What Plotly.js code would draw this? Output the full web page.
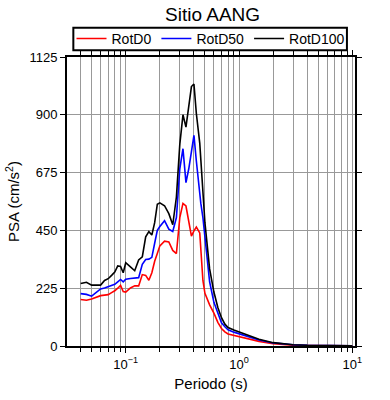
<!DOCTYPE html>
<html>
<head>
<meta charset="utf-8">
<script src="https://cdn.plot.ly/plotly-3.0.1.min.js"></script>
<style>html,body{margin:0;padding:0;background:#fff;}#chart{width:390px;height:400px;}</style>
</head>
<body>
<div id="chart"></div>
<script>
const periods = [0.04,0.045,0.05,0.055,0.06,0.065,0.07,0.075,0.08,0.085,0.09,0.095,0.1,0.11,0.12,0.13,0.14,0.15,0.16,0.17,0.18,0.19,0.2,0.22,0.24,0.26,0.28,0.3,0.32,0.34,0.36,0.38,0.4,0.42,0.45,0.46,0.48,0.5,0.55,0.6,0.65,0.7,0.75,0.8,0.9,1.0,1.2,1.5,2,2.5,3,4,5,7.5,10];
const rotD0 = [181,178,183,190,196,198,200,208,215,225,236,212,210,226,234,234,278,275,256,285,330,360,390,408,405,372,360,500,555,545,480,428,448,463,440,380,255,205,160,128,92,68,55,47,42,38,28,18,9,5,3,2,1,1,0.5];
const rotD50 = [204,201,194,208,222,226,230,235,240,250,259,250,260,263,264,266,318,337,338,345,400,450,465,488,455,446,500,690,768,636,690,765,820,720,590,555,500,430,250,170,125,90,75,63,54,48,36,23,12,7,5,3,2,1,1];
const rotD100 = [243,248,237,237,237,255,262,275,288,312,310,285,324,308,293,335,347,425,445,432,480,552,557,546,515,472,580,785,900,852,925,1010,1020,905,790,720,600,480,300,210,150,110,85,72,62,55,40,26,13,8,5,3,2,1,1];
const seriesNames = ["RotD0","RotD50","RotD100"];
const seriesColors = ["#ff0000","#0000ff","#000000"];
const yTicks = [0,225,450,675,900,1125];

const allSeries = [rotD0, rotD50, rotD100];
const traces = allSeries.map((vals,i)=>({
  x: periods, y: vals, type:'scatter', mode:'lines', name: seriesNames[i],
  line:{color: seriesColors[i], width:1.6}
}));

const font = "Liberation Sans, Arial, sans-serif";
const layout = {
  width:390, height:400,
  margin:{l:67, r:35, t:57, b:54, autoexpand:false},
  paper_bgcolor:'#fff', plot_bgcolor:'#fff',
  font:{family:font, color:'#000', size:13},
  title:{text:'Sitio AANG', font:{size:19, family:font}, x:0.545, xanchor:'center', y:0.963, yanchor:'middle'},
  showlegend:true,
  legend:{orientation:'h', x:0.5, xanchor:'center', y:1.0625, yanchor:'middle',
    borderwidth:0, bgcolor:'rgba(0,0,0,0)', font:{size:14, family:font},
    itemwidth:30, tracegroupgap:0},
  shapes:[{type:'rect', xref:'paper', yref:'paper', x0:0.022, x1:0.972, y0:1.0236, y1:1.1013,
    line:{color:'#000', width:2}, fillcolor:'rgba(0,0,0,0)', layer:'above'}],
  xaxis:{type:'log', range:[Math.log10(0.0303), Math.log10(10.56)],
    tickvals:[0.1,1,10], ticktext:['10<sup>−1</sup>','10<sup>0</sup>','10<sup>1</sup>'],
    ticks:'outside', ticklen:5, tickcolor:'#000', tickwidth:1,
    showline:true, linecolor:'#000', linewidth:2, mirror:'allticks',
    showgrid:true, gridcolor:'#999', gridwidth:1, zeroline:false,
    minor:{dtick:'D1', ticks:'outside', ticklen:4, tickcolor:'#000', showgrid:true, gridcolor:'#999', gridwidth:1},
    title:{text:'Periodo (s)', font:{size:15, family:font}, standoff:8},
    tickfont:{size:13, family:font}},
  yaxis:{range:[0,1125], tickvals:yTicks, ticks:'outside', ticklen:5, tickcolor:'#000',
    showline:true, linecolor:'#000', linewidth:2, mirror:'allticks',
    showgrid:true, gridcolor:'#999', gridwidth:1, zeroline:false,
    title:{text:'PSA (cm/s<sup>2</sup>)', font:{size:15, family:font}, standoff:6},
    tickfont:{size:13, family:font}}
};
Plotly.newPlot('chart', traces, layout, {displayModeBar:false, staticPlot:true});
</script>
</body>
</html>
